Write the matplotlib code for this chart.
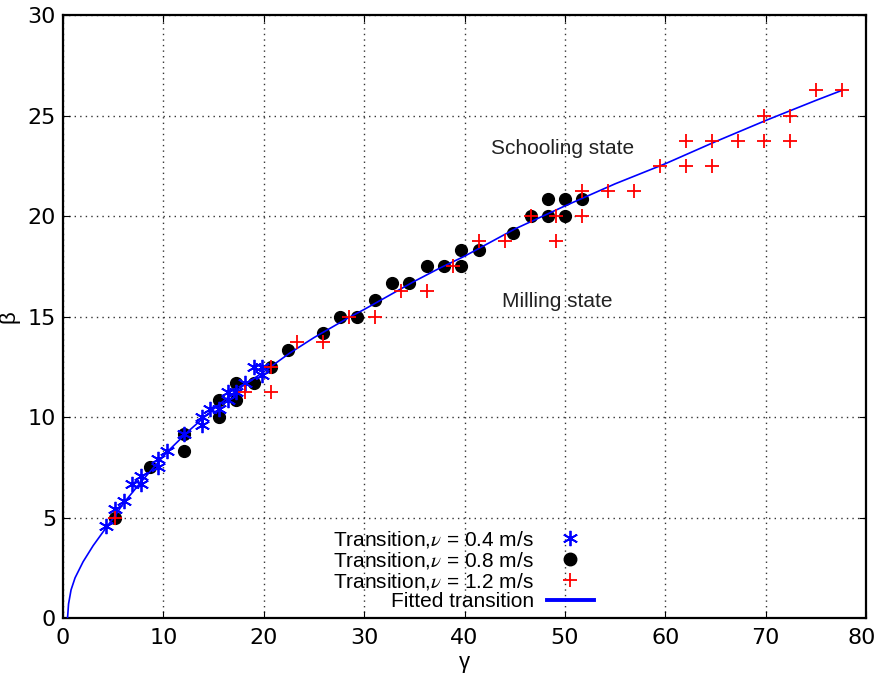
import matplotlib
matplotlib.use("Agg")
import matplotlib.pyplot as plt
from matplotlib.lines import Line2D
from matplotlib.transforms import ScaledTranslation

plt.rcParams['font.family'] = ['Liberation Sans', 'DejaVu Sans']
plt.rcParams['mathtext.fontset'] = 'stix'

# transition points (gamma, beta)
gamma_04 = [4.31, 5.18, 6.04, 6.90, 7.76, 7.76, 9.49, 9.49, 10.35, 12.07, 13.80, 13.80,
            14.66, 15.53, 16.39, 16.39, 17.25, 18.11, 18.98, 19.84, 19.84]
beta_04 = [4.58, 5.42, 5.83, 6.67, 6.67, 7.08, 7.50, 7.92, 8.33, 9.17, 9.58, 10.00,
           10.42, 10.42, 10.83, 11.25, 11.25, 11.67, 12.50, 12.50, 12.08]

gamma_08 = [5.18, 8.63, 12.08, 12.08, 15.53, 15.53, 17.25, 17.25, 18.98, 20.70, 22.43,
            25.88, 27.60, 29.33, 31.05, 32.78, 34.50, 36.23, 37.95, 39.68, 39.68, 41.40,
            44.85, 46.58, 48.30, 48.30, 50.03, 50.03, 51.75]
beta_08 = [5.00, 7.50, 8.33, 9.17, 10.00, 10.83, 10.83, 11.67, 11.67, 12.50, 13.33,
           14.17, 15.00, 15.00, 15.83, 16.67, 16.67, 17.50, 17.50, 17.50, 18.33, 18.33,
           19.17, 20.00, 20.00, 20.83, 20.00, 20.83, 20.83]

gamma_12 = [5.18, 18.11, 20.70, 20.70, 23.29, 25.88, 28.46, 31.05, 33.64, 36.23, 38.81,
            41.40, 44.00, 46.58, 49.16, 49.16, 51.75, 51.75, 54.34, 56.93, 59.51, 62.10,
            62.10, 64.69, 64.69, 67.28, 69.86, 69.86, 72.45, 72.45, 75.04, 77.63]
beta_12 = [5.00, 11.25, 11.25, 12.50, 13.75, 13.75, 15.00, 15.00, 16.25, 16.25, 17.50,
           18.75, 18.75, 20.00, 18.75, 20.00, 20.00, 21.25, 21.25, 21.25, 22.50, 22.50,
           23.75, 22.50, 23.75, 23.75, 23.75, 25.00, 23.75, 25.00, 26.25, 26.25]

# fitted transition curve
gamma_fit = [0.45, 0.55, 0.8, 1.2, 2.0, 3.0, 4.3, 5.2, 6.0, 8.0, 10.35, 12.5, 15.0, 17.5,
             20.0, 22.5, 25.0, 28.3, 30.0, 35.0, 37.5, 40.0, 45.0, 50.0, 55.0, 60.0,
             65.0, 70.0, 75.0, 77.6]
beta_fit = [0.0, 0.7, 1.4, 2.0, 2.8, 3.6, 4.5, 5.1, 5.7, 6.9, 8.25, 9.3, 10.4, 11.4,
            12.25, 13.15, 13.95, 14.9, 15.35, 16.75, 17.4, 18.0, 19.35, 20.5, 21.6, 22.6,
            23.7, 24.75, 25.75, 26.25]

labels = ['Transition,$\\nu$ = 0.4 m/s', 'Transition,$\\nu$ = 0.8 m/s',
          'Transition,$\\nu$ = 1.2 m/s', 'Fitted transition']

fig = plt.figure(figsize=(8.79, 6.73), dpi=100)
ax = fig.add_axes([0.0717, 0.0817, 0.9135, 0.896])

ax.plot(gamma_fit, beta_fit, color='#0000ff', lw=1.2, zorder=4)
ax.plot(gamma_08, beta_08, 'o', color='black', ms=8.5, ls='none', zorder=3)
ax.plot(gamma_04, beta_04, marker=(6, 2, 0), color='#0000ff', ms=11, mew=1.3, ls='none', zorder=5)
ax.plot(gamma_12, beta_12, '+', color='#ff0000', ms=10, mew=1.3, ls='none', zorder=6)

ax.set_xlim(0, 80)
ax.set_ylim(0, 30)
ax.set_xticks(range(0, 81, 10))
ax.set_yticks(range(0, 31, 5))
ax.grid(True, color='#333333', ls=(0, (1, 3)), lw=1)
ax.tick_params(direction='in', top=True, right=True, length=5, labelsize=16)
ax.tick_params(axis='x', pad=7)
ax.tick_params(axis='y', pad=5)
for lab in ax.get_xticklabels() + ax.get_yticklabels():
    lab.set_family('DejaVu Sans')
# keep the last x label inside the canvas
last = ax.get_xticklabels()[-1]
last.set_transform(last.get_transform() + ScaledTranslation(-3 / 72, 0, fig.dpi_scale_trans))
for s in ax.spines.values():
    s.set_linewidth(1.6)

ax.set_xlabel('γ', fontsize=16)
ax.set_ylabel('β', fontsize=16)
ax.xaxis.set_label_coords(0.5, -0.056)
ax.yaxis.set_label_coords(-0.054, 0.5)

ax.text(42.6, 23.37, 'Schooling state', fontsize=15, color='#222222', va='center')
ax.text(43.7, 15.75, 'Milling state', fontsize=15, color='#222222', va='center')

handles = [
    Line2D([], [], marker=(6, 2, 0), color='#0000ff', ms=11, mew=1.3, ls='none'),
    Line2D([], [], marker='o', color='black', ms=9, ls='none'),
    Line2D([], [], marker='+', color='#ff0000', ms=10, mew=1.3, ls='none'),
    Line2D([], [], color='#0000ff', lw=2.8),
]
ax.legend(handles, labels, loc='lower right', bbox_to_anchor=(0.68, -0.013),
          frameon=False, markerfirst=False, fontsize=15, labelspacing=0.0,
          handlelength=2.3, handletextpad=0.6, borderpad=0.2)

fig.savefig('out.png', dpi=100)
